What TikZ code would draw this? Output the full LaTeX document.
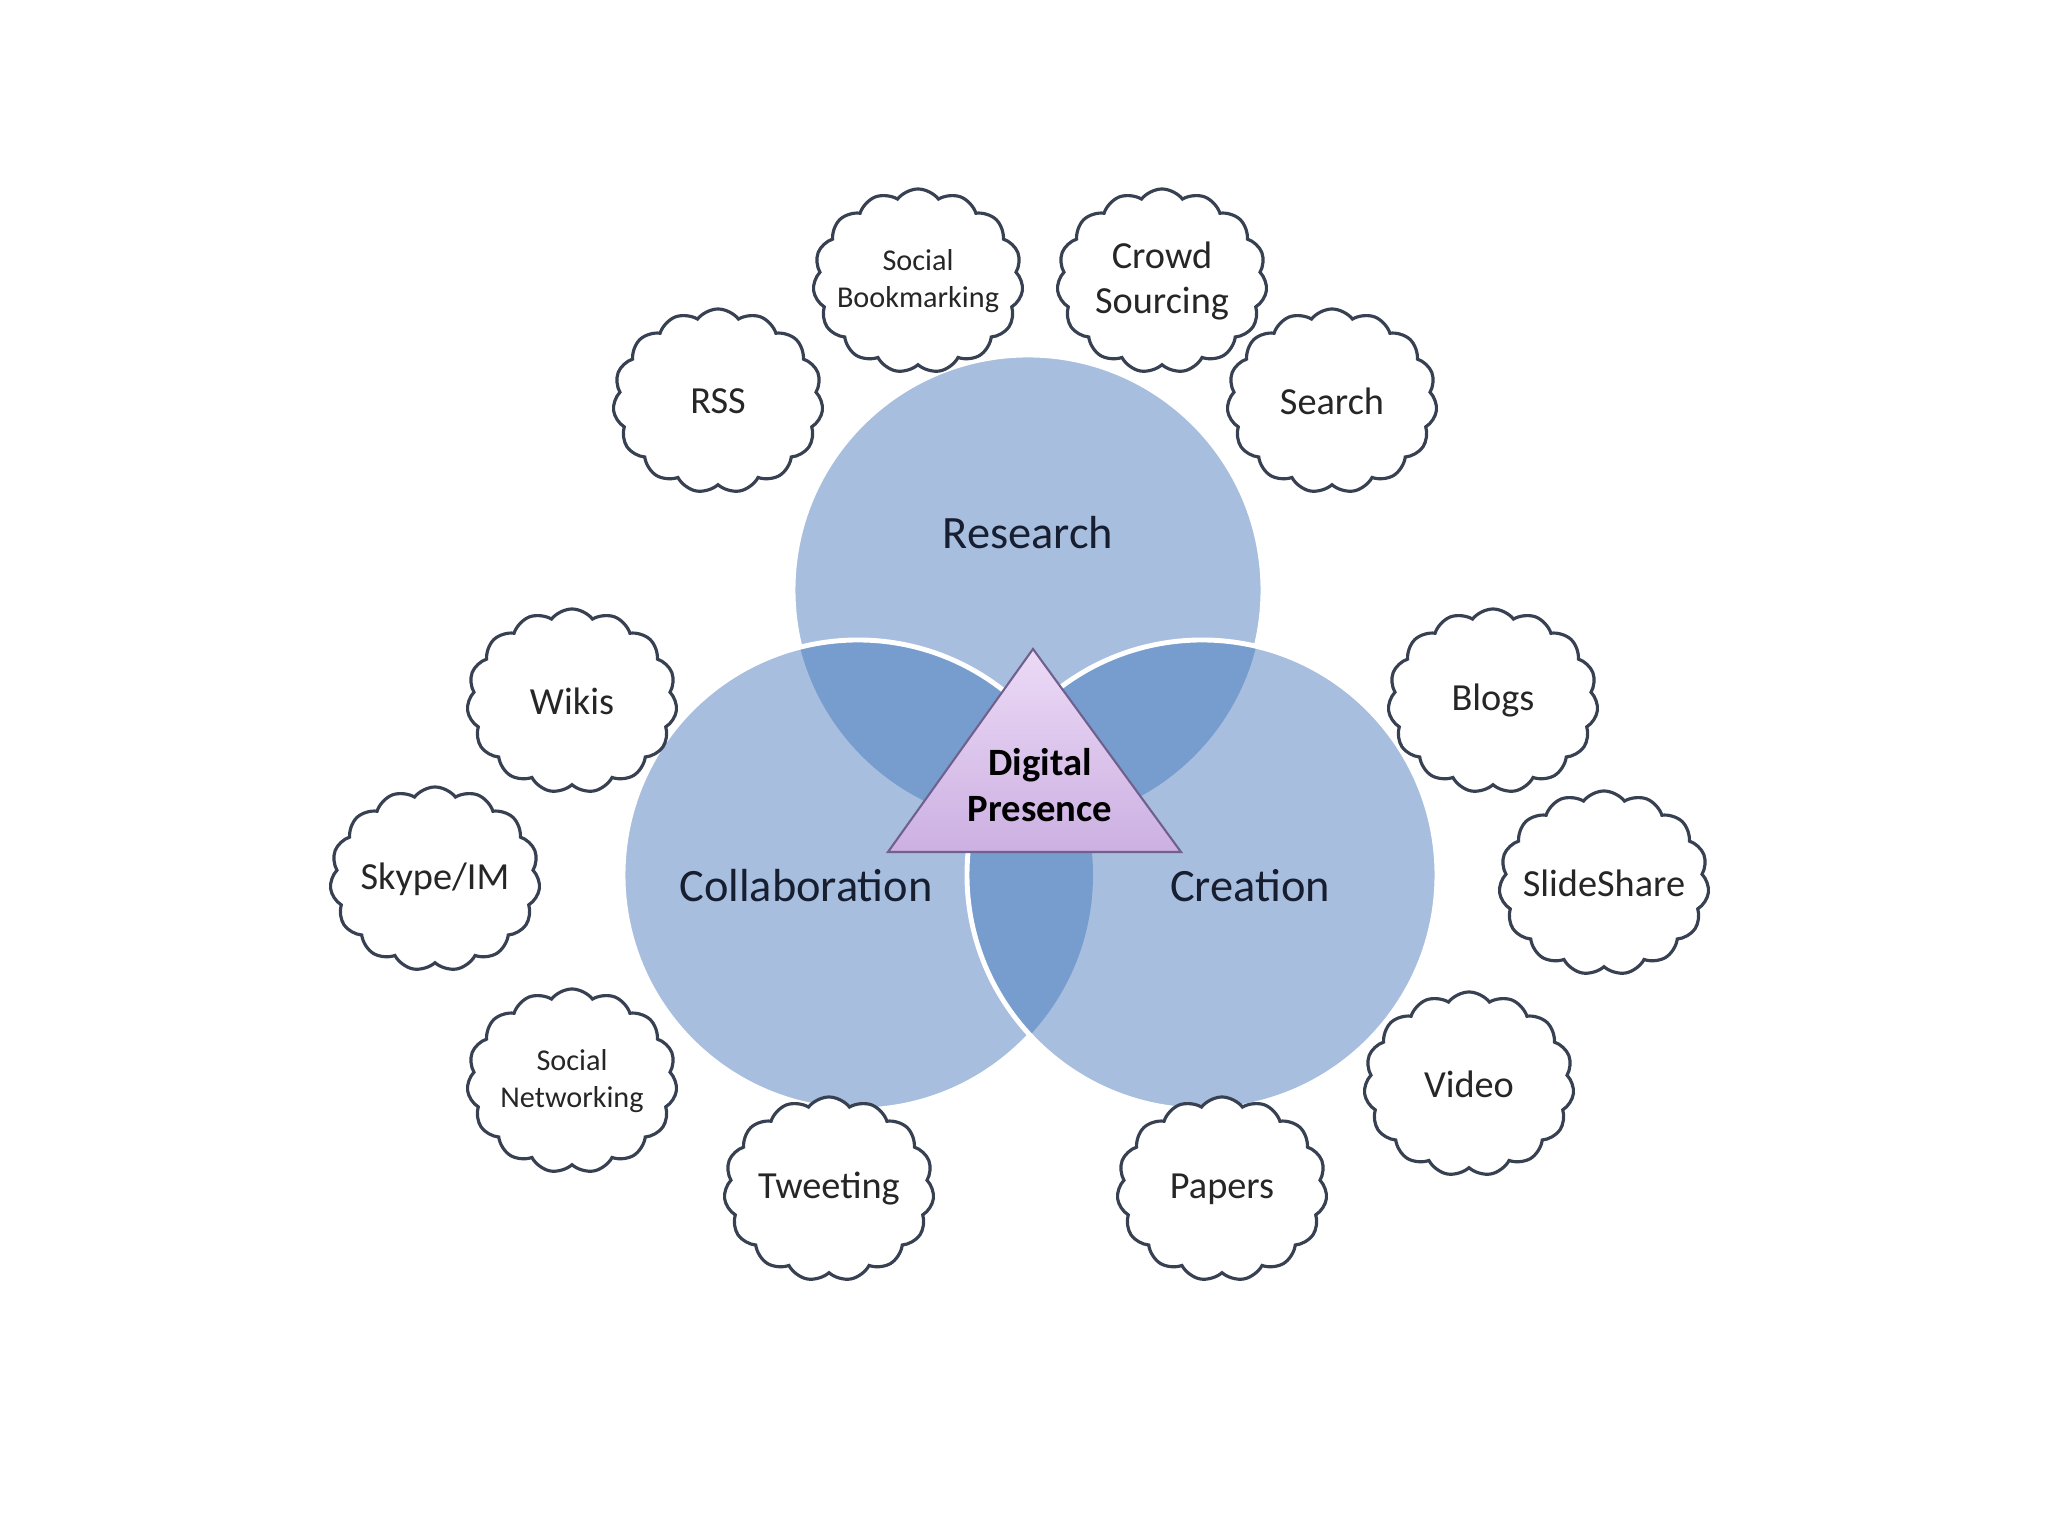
\documentclass[tikz,border=0pt]{standalone}
\usepackage{fontspec}
\setmainfont{Carlito}
\usetikzlibrary{shapes.symbols, shapes.geometric, positioning}
\definecolor{vennblue}{RGB}{168, 190, 223}
\definecolor{lensblue}{RGB}{118, 157, 206}
\definecolor{cloudline}{RGB}{55, 65, 82}
\definecolor{triatop}{RGB}{236, 218, 246}
\definecolor{triabottom}{RGB}{204, 176, 226}
\definecolor{triaedge}{RGB}{112, 96, 142}
\definecolor{inkdark}{RGB}{22, 30, 48}

\begin{document}
\begin{tikzpicture}[
    puff/.style={cloud, cloud puffs=15, cloud puff arc=105, cloud ignores aspect,
      draw=cloudline, line width=0.9pt, fill=white, inner sep=0pt,
      minimum width=2.1cm, minimum height=1.84cm},
    puffword/.style={font=\fontsize{10.9}{13}\selectfont, text=black!85, align=center},
    smallword/.style={font=\fontsize{8.6}{10.4}\selectfont, text=black!85, align=center},
    ring/.style={draw=white, line width=1.4pt},
    bigword/.style={font=\fontsize{13.2}{15}\selectfont, text=inkdark}
  ]
    \useasboundingbox (0,0) rectangle (20.48,15.36);

    % Venn circles
    \def\rad{2.35}
    \coordinate (res) at (10.28,9.46);
    \coordinate (col) at (8.58,6.61);
    \coordinate (cre) at (12.02,6.61);

    \fill[vennblue] (res) circle (\rad);
    \draw[ring] (res) circle (\rad);

    \fill[vennblue] (col) circle (\rad);
    \begin{scope}
        \clip (col) circle (\rad);
        \fill[lensblue] (res) circle (\rad);
    \end{scope}
    \draw[ring] (col) circle (\rad);

    \fill[vennblue] (cre) circle (\rad);
    \begin{scope}
        \clip (cre) circle (\rad);
        \fill[lensblue] (res) circle (\rad);
        \fill[lensblue] (col) circle (\rad);
    \end{scope}
    \draw[ring] (cre) circle (\rad);

    % Labels
    \node[bigword] (research) at (10.28,10.03) {Research};
    \node[bigword] (collab) at (8.06,6.50) {Collaboration};
    \node[bigword] (creation) at (12.50,6.50) {Creation};

    % Centre triangle
    \coordinate (tip) at (10.33,8.87);
    \coordinate (baseL) at (8.88,6.84);
    \coordinate (baseR) at (11.81,6.84);
    \shade[top color=triatop, bottom color=triabottom, draw=triaedge, line width=0.6pt, line join=miter]
        (tip) -- (baseL) -- (baseR) -- cycle;
    \node[font=\bfseries\fontsize{11}{13}\selectfont, text=black, align=center] (presence)
        at (10.40,7.51) {Digital\\Presence};

    % Clouds
    \node[puff, label={[smallword]center:Social\\Bookmarking}] (bookmark) at (9.18,12.55) {};
    \node[puff, label={[puffword]center:Crowd\\Sourcing}] (crowd) at (11.62,12.55) {};
    \node[puff, label={[puffword]center:RSS}] (rss) at (7.18,11.35) {};
    \node[puff, label={[puffword]center:Search}] (search) at (13.32,11.35) {};
    \node[puff, label={[puffword]center:Wikis}] (wikis) at (5.72,8.35) {};
    \node[puff, label={[puffword]center:Blogs}] (blogs) at (14.93,8.35) {};
    \node[puff, label={[puffword]center:Skype/IM}] (skype) at (4.35,6.57) {};
    \node[puff, label={[puffword]center:SlideShare}] (slides) at (16.04,6.53) {};
    \node[puff, label={[smallword]center:Social\\Networking}] (network) at (5.72,4.55) {};
    \node[puff, label={[puffword]center:Video}] (video) at (14.69,4.52) {};
    \node[puff, label={[puffword]center:Tweeting}] (tweet) at (8.29,3.47) {};
    \node[puff, label={[puffword]center:Papers}] (papers) at (12.22,3.47) {};
\end{tikzpicture}
\end{document}
